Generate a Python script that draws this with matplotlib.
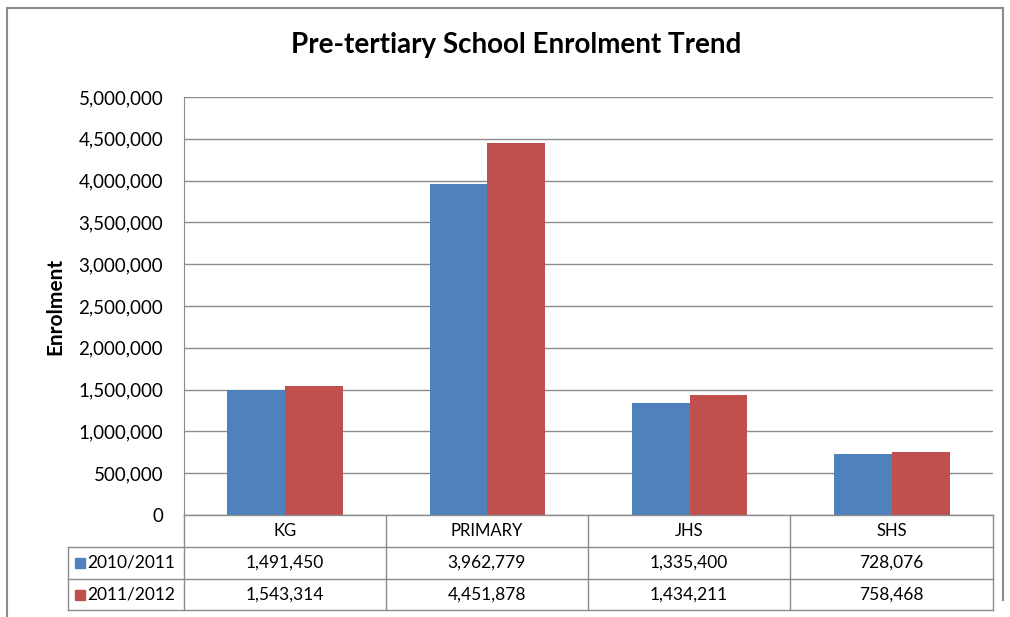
import matplotlib
matplotlib.use("Agg")
import matplotlib.pyplot as plt
from matplotlib.lines import Line2D
from matplotlib.patches import Rectangle
import numpy as np

plt.rcParams['font.family'] = ['Lato', 'DejaVu Sans']

categories = ["KG", "PRIMARY", "JHS", "SHS"]
series_names = ["2010/2011", "2011/2012"]
enrol_2010 = [1491450, 3962779, 1335400, 728076]
enrol_2011 = [1543314, 4451878, 1434211, 758468]
y_ticks = [0, 500000, 1000000, 1500000, 2000000, 2500000,
           3000000, 3500000, 4000000, 4500000, 5000000]

colors = ["#4F81BD", "#C0504D"]
grid_col = "#8C8C8C"

W, H = 1010, 617
fig = plt.figure(figsize=(W / 100, H / 100), dpi=100)

def fx(px):
    return px / W

def fy(py):
    return 1 - py / H

left, right, top, bottom = 184, 993, 97, 515
ax = fig.add_axes([fx(left), fy(bottom), fx(right) - fx(left), fy(top) - fy(bottom)])

x = np.arange(len(categories))
bw = 1 / 3.5
ax.bar(x - bw / 2, enrol_2010, width=bw, color=colors[0], zorder=3)
ax.bar(x + bw / 2, enrol_2011, width=bw, color=colors[1], zorder=3)

ax.set_xlim(-0.5, len(categories) - 0.5)
ax.set_ylim(0, 5000000)
ax.set_yticks(y_ticks)
ax.set_yticklabels([f"{v:,}" for v in y_ticks], fontsize=13.5)
ax.set_xticks([])
ax.yaxis.grid(True, color=grid_col, linewidth=1, zorder=0)
for s in ["top", "right", "bottom"]:
    ax.spines[s].set_visible(False)
ax.spines["left"].set_color(grid_col)
ax.tick_params(axis="y", length=0, pad=15)
ax.set_ylabel("Enrolment", fontsize=15, fontweight="bold", labelpad=9)

fig.text(fx(516), fy(45), "Pre-tertiary School Enrolment Trend",
         ha="center", va="center", fontsize=20, fontweight="bold")

# data table below the plot
row_y = [515, 547, 579, 610]
col_x = [184, 386, 588, 790, 993]
label_left = 68

def hline(x0, x1, y):
    fig.add_artist(Line2D([fx(x0), fx(x1)], [fy(y), fy(y)], color=grid_col, lw=1,
                          transform=fig.transFigure))

def vline(xp, y0, y1):
    fig.add_artist(Line2D([fx(xp), fx(xp)], [fy(y0), fy(y1)], color=grid_col, lw=1,
                          transform=fig.transFigure))

hline(left, right, row_y[0])
for yy in row_y[1:]:
    hline(label_left, right, yy)
for xp in col_x:
    vline(xp, row_y[0], row_y[-1])
vline(label_left, row_y[1], row_y[-1])

for i, c in enumerate(categories):
    cx = (col_x[i] + col_x[i + 1]) / 2
    fig.text(fx(cx), fy((row_y[0] + row_y[1]) / 2), c, ha="center", va="center", fontsize=12)

for r, (name, vals) in enumerate(zip(series_names, [enrol_2010, enrol_2011])):
    cy = (row_y[r + 1] + row_y[r + 2]) / 2
    fig.add_artist(Rectangle((fx(75), fy(cy + 5)), fx(10), fy(0) - fy(10),
                             color=colors[r], transform=fig.transFigure))
    fig.text(fx(87), fy(cy), name, ha="left", va="center", fontsize=12.5)
    for i, v in enumerate(vals):
        cx = (col_x[i] + col_x[i + 1]) / 2
        fig.text(fx(cx), fy(cy), f"{v:,}", ha="center", va="center", fontsize=12.5)

# outer chart border
border = "#8C8C8C"
fig.add_artist(Line2D([fx(7), fx(7)], [fy(8), 0], color=border, lw=1.5, transform=fig.transFigure))
fig.add_artist(Line2D([fx(7), fx(1003)], [fy(8), fy(8)], color=border, lw=1.5, transform=fig.transFigure))
fig.add_artist(Line2D([fx(1003), fx(1003)], [fy(8), fy(600)], color=border, lw=1.5, transform=fig.transFigure))

fig.savefig("out.png", dpi=100)
